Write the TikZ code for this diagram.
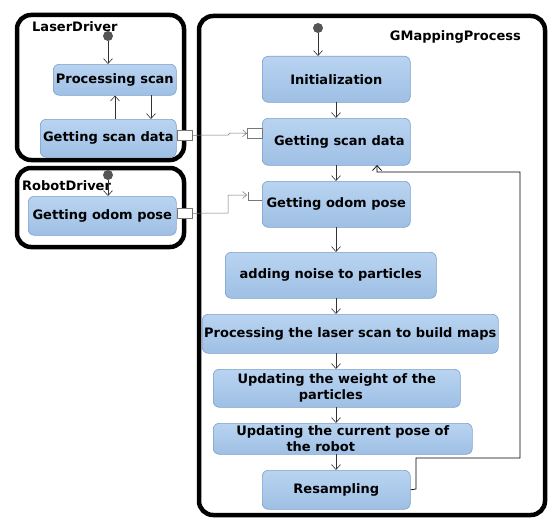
\documentclass[tikz,border=0pt]{standalone}
\usepackage{fontspec}
\setmainfont{DejaVu Sans}
\usetikzlibrary{arrows.meta}
\definecolor{boxfillA}{HTML}{B9D4F1}
\definecolor{boxfillB}{HTML}{9EBFE4}
\definecolor{boxdraw}{HTML}{7C9FCB}
\definecolor{portgray}{HTML}{777777}
\definecolor{dotgray}{HTML}{555555}
\tikzset{
  stbox/.style={draw=boxdraw, line width=0.6pt, rounded corners=6pt, top color=boxfillA, bottom color=boxfillB,
    font=\bfseries\fontsize{13}{16}\selectfont, align=center, inner sep=0pt, anchor=north west},
  container/.style={draw=black, line width=4.5pt, rounded corners=14pt},
  title/.style={font=\bfseries\fontsize{13}{15}\selectfont, inner sep=0pt},
  initdot/.style={circle, fill=dotgray, minimum size=10pt, inner sep=0pt},
  flow/.style={draw=black!80, line width=0.6pt, -{Straight Barb[length=5pt,width=9pt]}},
  link/.style={draw=portgray, line width=0.5pt, -{Straight Barb[length=4pt,width=7pt]}},
  port/.style={draw=portgray, fill=white, line width=0.6pt, minimum width=15pt, minimum height=10pt, inner sep=0pt, anchor=north west},
  loopline/.style={draw=black, line width=0.7pt}
}
\begin{document}
\begin{tikzpicture}[x=1pt, y=-1pt]
\useasboundingbox (0,0) rectangle (556,519);
\fill[white] (0,0) rectangle (556,519);

% containers
\draw[container] (17,15) rectangle (184,160);
\draw[container] (17,168) rectangle (184,247);
\draw[container] (199,16) rectangle (545,515);

\node[title, anchor=west] (tLaser) at (32,27) {LaserDriver};
\node[title, anchor=west] (tRobot) at (22,186) {RobotDriver};
\node[title, anchor=east] (tGMap) at (521,37) {GMappingProcess};

% LaserDriver
\node[initdot] (d1) at (108,36) {};
\node[stbox, minimum width=123pt, minimum height=31pt] (ps) at (53,64) {Processing scan};
\node[stbox, minimum width=136pt, minimum height=38pt] (gsd1) at (40,119) {Getting scan data};
\draw[flow] (d1) -- (d1 |- ps.north);
\draw[flow] (151,95) coordinate (c1) -- (c1 |- gsd1.north);
\draw[flow] (115,119) coordinate (c2) -- (c2 |- ps.south);
\node[port] (p1) at (177,130) {};

% RobotDriver
\node[initdot] (d2) at (108,175) {};
\node[stbox, minimum width=148pt, minimum height=39pt] (gop1) at (28,196) {Getting odom pose};
\draw[flow] (d2) -- (d2 |- gop1.north);
\node[port] (p2) at (177,208) {};

% GMapping
\node[initdot] (d3) at (318,28) {};
\node[stbox, minimum width=148pt, minimum height=46pt] (init) at (262,56) {Initialization};
\node[stbox, minimum width=148pt, minimum height=47pt] (gsd2) at (262,118) {\hspace*{6pt}Getting scan data};
\node[stbox, minimum width=148pt, minimum height=46pt] (gop2) at (262,181) {Getting odom pose};
\node[stbox, minimum width=211pt, minimum height=46pt] (noise) at (225,252) {adding noise to particles};
\node[stbox, minimum width=296pt, minimum height=39pt] (proc) at (202,314) {Processing the laser scan to build maps};
\node[stbox, minimum width=247pt, minimum height=38pt] (upw) at (213,369) {Updating the weight of the\\\hspace*{-12pt}particles};
\node[stbox, minimum width=259pt, minimum height=31pt] (upp) at (213,423) {Updating the current pose of\\\hspace*{-44pt}the robot};
\node[stbox, minimum width=148pt, minimum height=39pt] (res) at (262,470) {Resampling};

\draw[flow] (d3) -- (d3 |- init.north);
\draw[flow] (336,102) coordinate (a0) -- (a0 |- gsd2.north);
\draw[flow] (336,165) coordinate (a1) -- (a1 |- gop2.north);
\draw[flow] (336,227) coordinate (a2) -- (a2 |- noise.north);
\draw[flow] (336,298) coordinate (a3) -- (a3 |- proc.north);
\draw[flow] (336,353) coordinate (a4) -- (a4 |- upw.north);
\draw[flow] (336,407) coordinate (a5) -- (a5 |- upp.north);
\draw[flow] (336,454) coordinate (a6) -- (a6 |- res.north);

% feedback loop
\draw[loopline, -{Straight Barb[length=5pt,width=9pt]}] (res.east) -- (416,489) -- (416,458) -- (520,458) -- (520,172) -- (377,172) -- (377,165);

% ports and links
\node[port] (p3) at (247,128) {};
\draw[link] (p1.east) -- (228,135) -- (230,133) -- (p3.west);
\coordinate (q2) at (247,195);
\draw[link] (p2.east) -- (228,213) -- (228,195) -- (q2);
\draw[draw=portgray, line width=0.6pt] (248,192) -- (248,200) -- (262,200);
\end{tikzpicture}
\end{document}
